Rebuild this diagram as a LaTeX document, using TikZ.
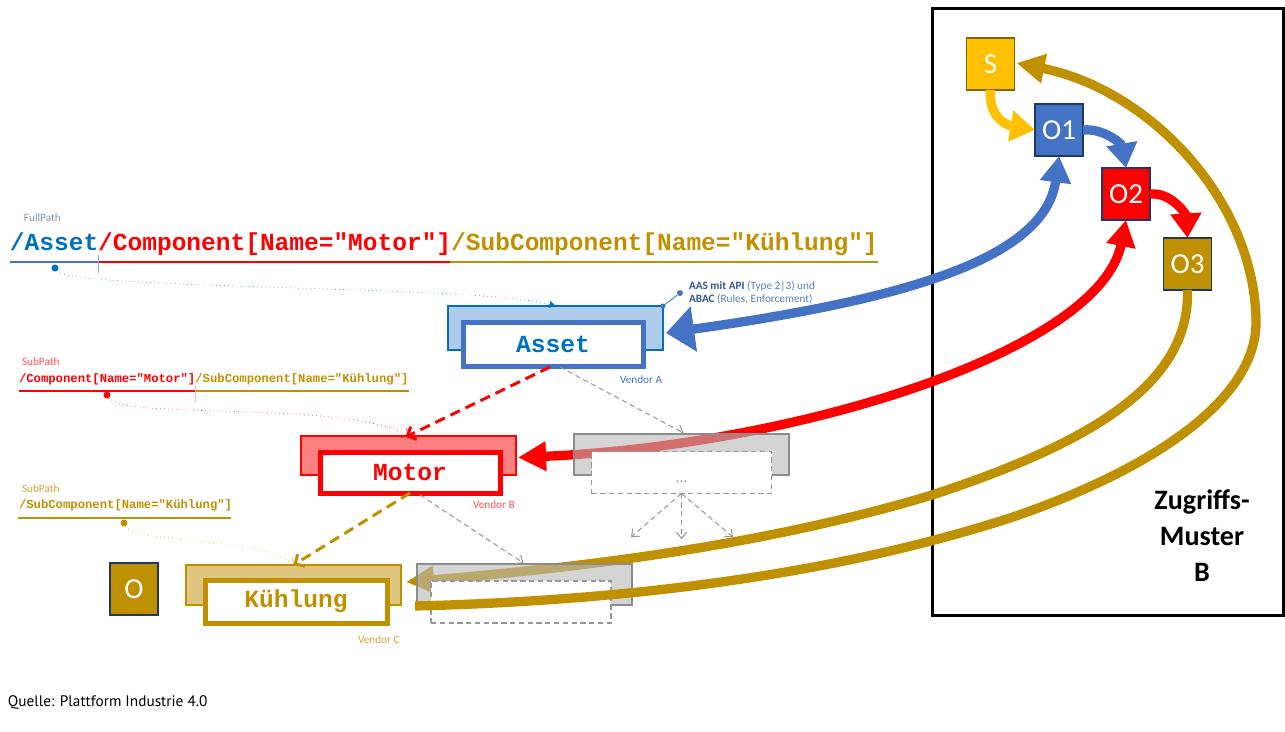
\documentclass[tikz,border=0pt]{standalone}
\usepackage{fontspec}
\setmainfont{Carlito}
\newfontfamily\monofam{Liberation Mono}
\newfontfamily\quellefont{PT Sans}
\usetikzlibrary{arrows.meta,calc}
\definecolor{cblue}{HTML}{0070C0}
\definecolor{accblue}{HTML}{4472C4}
\definecolor{lightblue}{HTML}{AECBEA}
\definecolor{cred}{HTML}{FF0000}
\definecolor{lightred}{HTML}{FF8080}
\definecolor{cgold}{HTML}{BF9000}
\definecolor{lightgold}{HTML}{DFC680}
\definecolor{sgold}{HTML}{FFC000}
\definecolor{cgrayfill}{HTML}{B8B8B8}
\definecolor{cgrayline}{HTML}{8C8C8C}
\definecolor{cdash}{HTML}{969696}
\definecolor{navy}{HTML}{1F3864}
\definecolor{fplabel}{HTML}{7F8FA9}
\definecolor{redlabel}{HTML}{FF5050}
\definecolor{goldlabel}{HTML}{C9A43A}
\definecolor{aasdark}{HTML}{2F5597}
\definecolor{aaslight}{HTML}{5B7DB4}
\newcommand\pxu{0.02cm}
\newcommand\bigpath{\fontsize{13.95}{16}\selectfont\monofam\bfseries}
\newcommand\smallpath{\fontsize{6.97}{8}\selectfont\monofam\bfseries}
\newcommand\tinylabel{\fontsize{6.4}{7.5}\selectfont}
\begin{document}
\begin{tikzpicture}[x=0.02cm,y=-0.02cm,
  every node/.style={inner sep=0pt,outer sep=0pt},
  outerbox/.style={draw,minimum width=215*\pxu,minimum height=40*\pxu,line width=1.3*\pxu},
  innerbox/.style={draw,fill=white,minimum width=180*\pxu,minimum height=42*\pxu,line width=5*\pxu,font=\fontsize{14}{16}\selectfont\monofam\bfseries},
  graybox/.style={draw=cgrayline,fill=cgrayfill,fill opacity=0.6,minimum width=215*\pxu,minimum height=41*\pxu,line width=1.3*\pxu},
  grayinner/.style={draw=cdash,fill=white,dashed,dash pattern=on 3pt off 2pt,minimum width=180*\pxu,minimum height=42*\pxu,line width=1.2*\pxu},
  square/.style={draw=navy,line width=1.6*\pxu,minimum width=48*\pxu,minimum height=52*\pxu,text=white,font=\fontsize{16.5}{18}\selectfont},
  bigarrow/.style={line width=5.3pt},
  smallarrow/.style={line width=5.3pt,-{Triangle[length=14pt,width=17pt]}},
  thindash/.style={draw=cdash,line width=1*\pxu,dashed,dash pattern=on 3pt off 2pt,-{Straight Barb[length=3.5pt,width=6pt]}},
  thickdash/.style={line width=3*\pxu,dash pattern=on 6pt off 3.5pt,-{Straight Barb[length=4pt,width=8pt]}},
  dotline/.style={line width=0.6*\pxu,dotted},
  pathdot/.style={circle,minimum size=7*\pxu},
  uline/.style={line width=2.5*\pxu}
]
\useasboundingbox (0,0) rectangle (1285,731);

% right frame
\draw[line width=3*\pxu] (932,8) rectangle (1283,615);

% squares
\node[square,fill=sgold,draw=cgold!70!black] (s) at (990.5,64) {S};
\node[square,fill=accblue] (o1) at (1059,130) {O1};
\node[square,fill=cred] (o2) at (1126,194) {O2};
\node[square,fill=cgold] (o3) at (1187.5,264) {O3};
\node[square,fill=cgold] (o) at (134,589) {O};

% asset / motor / kuehlung boxes
\node[outerbox,draw=cblue,fill=lightblue,minimum height=44*\pxu] (aout) at (555.5,328) {};
\node[innerbox,draw=accblue,text=cblue,minimum height=44*\pxu] (ain) at (553,344) {Asset};
\node[outerbox,draw=cred,fill=lightred,minimum height=39*\pxu] (mout) at (408.5,455.5) {};
\node[innerbox,draw=cred,text=cred,minimum height=41*\pxu] (min) at (410,472.5) {Motor};
\node[outerbox,draw=cgold,fill=lightgold] (kout) at (293.5,585) {};
\node[innerbox,draw=cgold,text=cgold,minimum width=182*\pxu,minimum height=43*\pxu] (kin) at (296,601.5) {Kühlung};

% big arrows (behind gray boxes)
\draw[bigarrow,accblue,{Triangle[length=16pt,width=25pt]}-{Triangle[length=15pt,width=17pt]}]
  ($(aout.east)+(3,5)$) .. controls (900,300) and (1045,260) .. (o1.south);
\draw[bigarrow,cred,{Triangle[length=16pt,width=16pt]}-{Triangle[length=15pt,width=16pt]}]
  ($(mout.east)+(2,2)$) .. controls (800,445) and (1100,350) .. (o2.south);
\draw[bigarrow,cgold,-{Triangle[length=16pt,width=15pt]}]
  (o3.south) .. controls (1190,380) and (1100,440) .. (932,495)
  .. controls (750,550) and (550,570) .. ($(kout.east)+(5,-3)$);

% gray boxes
\node[graybox] (g1out) at (681.5,454.5) {};
\node[grayinner] (g1in) at (681.5,472.5) {};
\node[text=cdash,font=\fontsize{9}{10}\selectfont,anchor=base] (dots) at (681.5,482) {...};
\node[graybox] (g2out) at (524.5,584.5) {};
\node[grayinner] (g2in) at (521,602) {};

% lower gold line to S
\coordinate (lowstart) at (415,606);
\draw[bigarrow,cgold,-{Triangle[length=16pt,width=16pt]}]
  (lowstart) .. controls (650,600) and (850,570) .. (1013,517)
  .. controls (1150,470) and (1258,400) .. (1256,320)
  .. controls (1254,200) and (1150,90) .. ($(s.east)+(2,-1)$);

% small arrows in the frame
\draw[smallarrow,sgold] (s.south) .. controls (988,115) and (1005,125) .. (o1.west);
\draw[smallarrow,accblue] (o1.east) .. controls (1105,128) and (1122,145) .. (o2.north);
\draw[smallarrow,cred] (o2.east) .. controls (1172,192) and (1186,215) .. (o3.north);

% dashed connectors
\draw[thickdash,cred] ($(ain.south)+(-3,1)$) -- ($(mout.north)+(-3,1)$);
\draw[thickdash,cgold] (min.south) -- (kout.north);
\draw[thindash] ($(ain.south)+(7,1)$) -- ($(g1out.north)+(2,-1)$);
\draw[thindash] ($(min.south)+(10,2)$) -- ($(g2out.north)+(-1,-1)$);
\coordinate (d1) at (631,537);
\coordinate (d2) at (681.5,539);
\coordinate (d3) at (733,537);
\draw[thindash] (g1in.south) -- (d1);
\draw[thindash] (g1in.south) -- (d2);
\draw[thindash] (g1in.south) -- (d3);

% full path
\node[text=fplabel,font=\tinylabel,anchor=west] (fplab) at (24,218) {FullPath};
\node[anchor=base west,font=\bigpath] (fp) at (10,250)
  {\textcolor{cblue}{/Asset}\textcolor{cred}{/Component[Name="Motor"]}\textcolor{cgold}{/SubComponent[Name="Kühlung"]}};
\draw[uline,accblue] (10,262) -- (98,262);
\draw[uline,cred] (98,262) -- (450,262);
\draw[uline,cgold] (450,262) -- (878,262);
\draw[line width=0.6*\pxu,accblue!60] (98,255) -- (98,273);
\node[pathdot,fill=cblue] (fpdot) at (55,268) {};
\draw[dotline,cblue,-{Triangle[length=3.5pt,width=4pt]}] (fpdot) .. controls (70,290) and (480,285) .. (aout.north);

% sub path 1
\node[text=redlabel,font=\tinylabel,anchor=west] (sp1lab) at (22,362) {SubPath};
\node[anchor=base west,font=\smallpath] (sp1) at (19,382)
  {\textcolor{cred}{/Component[Name="Motor"]}\textcolor{cgold}{/SubComponent[Name="Kühlung"]}};
\draw[uline,cred] (19,391) -- (195,391);
\draw[uline,cgold] (195,391) -- (409,391);
\draw[line width=0.6*\pxu,cred!30] (195,385) -- (195,402);
\node[pathdot,fill=cred] (sp1dot) at (107,395) {};
\draw[dotline,cred,-{Straight Barb[length=3pt,width=6pt]}] (sp1dot) .. controls (120,420) and (350,400) .. (mout.north);

% sub path 2
\node[text=goldlabel,font=\tinylabel,anchor=west] (sp2lab) at (22,489) {SubPath};
\node[anchor=base west,font=\smallpath,text=cgold] (sp2) at (19,508) {/SubComponent[Name="Kühlung"]};
\draw[uline,cgold] (18,518) -- (231,518);
\node[pathdot,fill=cgold] (sp2dot) at (124,523) {};
\draw[dotline,cgold,-{Straight Barb[length=3pt,width=6pt]}] (sp2dot) .. controls (135,545) and (260,535) .. (kout.north);

% annotation
\node[circle,fill=accblue,minimum size=6*\pxu] (anndot) at (680,293) {};
\node[circle,fill=accblue,minimum size=5*\pxu] (corner) at (aout.north east) {};
\draw[accblue,line width=0.8*\pxu] (anndot) -- (corner);
\node[anchor=west,font=\tinylabel,text=aaslight] (ann1) at (689,286) {\textcolor{aasdark}{\bfseries AAS mit API} (Type 2|3) und};
\node[anchor=west,font=\tinylabel,text=aaslight] (ann2) at (689,299) {\textcolor{aasdark}{\bfseries ABAC} (Rules, Enforcement)};

% vendor labels
\node[anchor=west,font=\tinylabel,text=accblue] (va) at (620,380) {Vendor A};
\node[anchor=west,font=\tinylabel,text=redlabel] (vb) at (473,505) {Vendor B};
\node[anchor=west,font=\tinylabel,text=goldlabel] (vc) at (358,640) {Vendor C};

% pattern label
\node[align=center,font=\fontsize{16}{20.5}\selectfont\bfseries] (zm) at (1202,536) {Zugriffs-\\Muster\\B};

% source
\node[anchor=west,font=\fontsize{8.7}{10}\selectfont\quellefont] (src) at (8,702) {Quelle: Plattform Industrie 4.0};
\end{tikzpicture}
\end{document}
